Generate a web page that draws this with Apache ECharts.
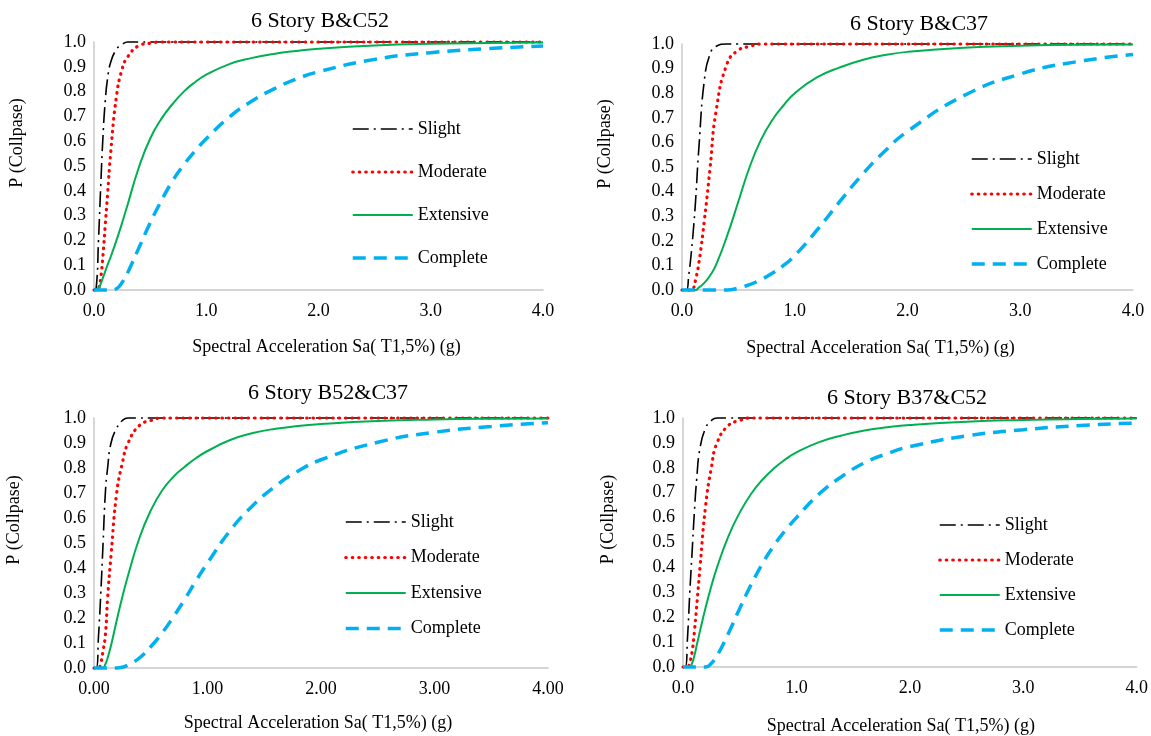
<!DOCTYPE html>
<html>
<head>
<meta charset="utf-8">
<title>Fragility curves - 6 Story</title>
<script src="https://cdn.jsdelivr.net/npm/echarts@6/dist/echarts.min.js"></script>
<style>
  html, body { margin: 0; padding: 0; background: #ffffff; }
  #chart { width: 1151px; height: 736px; }
</style>
</head>
<body>
<div id="chart"></div>
<script>
// Sa(T1,5%) sample points (g), shared by every curve
const xs = [0, 0.02, 0.04, 0.06, 0.08, 0.1, 0.12, 0.15, 0.2, 0.25, 0.3, 0.4, 0.5, 0.6, 0.7, 0.8, 0.9, 1.0, 1.2, 1.4, 1.6, 1.8, 2.0, 2.5, 3.0, 3.5, 4.0];

const stateNames = ["Slight", "Moderate", "Extensive", "Complete"];
const panelTitles = ["6 Story B&C52", "6 Story B&C37", "6 Story B52&C37", "6 Story B37&C52"];
const yTicks = [0, 0.1, 0.2, 0.3, 0.4, 0.5, 0.6, 0.7, 0.8, 0.9, 1.0];
const xTicks = [0, 1, 2, 3, 4];

// 6 Story B&C52
const slightBC52    = [0, 0.01, 0.2, 0.42, 0.62, 0.76, 0.85, 0.92, 0.97, 0.99, 1, 1, 1, 1, 1, 1, 1, 1, 1, 1, 1, 1, 1, 1, 1, 1, 1];
const moderateBC52  = [0, 0, 0.005, 0.05, 0.14, 0.26, 0.38, 0.56, 0.78, 0.89, 0.94, 0.985, 0.995, 1, 1, 1, 1, 1, 1, 1, 1, 1, 1, 1, 1, 1, 1];
const extensiveBC52 = [0, 0, 0.008, 0.025, 0.05, 0.075, 0.1, 0.135, 0.2, 0.27, 0.345, 0.495, 0.61, 0.69, 0.75, 0.8, 0.838, 0.868, 0.91, 0.935, 0.952, 0.964, 0.973, 0.986, 0.993, 0.996, 0.998];
const completeBC52  = [0, 0, 0, 0, 0, 0, 0, 0, 0.005, 0.03, 0.07, 0.17, 0.27, 0.36, 0.44, 0.505, 0.56, 0.61, 0.695, 0.76, 0.81, 0.85, 0.88, 0.93, 0.957, 0.973, 0.984];

// 6 Story B&C37
const slightBC37    = [0, 0, 0, 0.06, 0.14, 0.24, 0.36, 0.58, 0.86, 0.96, 0.99, 1, 1, 1, 1, 1, 1, 1, 1, 1, 1, 1, 1, 1, 1, 1, 1];
const moderateBC37  = [0, 0, 0, 0, 0, 0.005, 0.04, 0.11, 0.29, 0.5, 0.72, 0.92, 0.975, 0.99, 1, 1, 1, 1, 1, 1, 1, 1, 1, 1, 1, 1, 1];
const extensiveBC37 = [0, 0, 0, 0, 0, 0, 0, 0.01, 0.03, 0.06, 0.1, 0.22, 0.36, 0.5, 0.61, 0.69, 0.75, 0.8, 0.865, 0.905, 0.935, 0.955, 0.968, 0.985, 0.993, 0.997, 0.998];
const completeBC37  = [0, 0, 0, 0, 0, 0, 0, 0, 0, 0, 0, 0, 0.008, 0.022, 0.042, 0.068, 0.1, 0.14, 0.245, 0.36, 0.47, 0.565, 0.645, 0.79, 0.878, 0.928, 0.957];

// 6 Story B52&C37
const slightB52C37    = [0, 0, 0.13, 0.3, 0.5, 0.7, 0.8, 0.9, 0.96, 0.99, 1, 1, 1, 1, 1, 1, 1, 1, 1, 1, 1, 1, 1, 1, 1, 1, 1];
const moderateB52C37  = [0, 0, 0, 0.02, 0.07, 0.13, 0.28, 0.45, 0.7, 0.82, 0.9, 0.97, 0.99, 1, 1, 1, 1, 1, 1, 1, 1, 1, 1, 1, 1, 1, 1];
const extensiveB52C37 = [0, 0, 0, 0, 0, 0.015, 0.04, 0.09, 0.19, 0.285, 0.37, 0.52, 0.63, 0.71, 0.765, 0.805, 0.84, 0.868, 0.912, 0.94, 0.957, 0.968, 0.976, 0.988, 0.994, 0.997, 0.998];
const completeB52C37  = [0, 0, 0, 0, 0, 0, 0, 0, 0, 0.003, 0.012, 0.04, 0.085, 0.14, 0.205, 0.275, 0.35, 0.42, 0.55, 0.65, 0.728, 0.788, 0.833, 0.903, 0.943, 0.966, 0.981];

// 6 Story B37&C52
const slightB37C52    = [0, 0, 0.12, 0.3, 0.46, 0.62, 0.75, 0.88, 0.96, 0.99, 1, 1, 1, 1, 1, 1, 1, 1, 1, 1, 1, 1, 1, 1, 1, 1, 1];
const moderateB37C52  = [0, 0, 0, 0.02, 0.06, 0.14, 0.24, 0.4, 0.65, 0.8, 0.9, 0.97, 0.99, 1, 1, 1, 1, 1, 1, 1, 1, 1, 1, 1, 1, 1, 1];
const extensiveB37C52 = [0, 0, 0, 0, 0.015, 0.045, 0.085, 0.145, 0.24, 0.325, 0.4, 0.525, 0.62, 0.695, 0.752, 0.797, 0.833, 0.862, 0.903, 0.93, 0.95, 0.963, 0.972, 0.985, 0.992, 0.996, 0.998];
const completeB37C52  = [0, 0, 0, 0, 0, 0, 0, 0, 0, 0.015, 0.045, 0.135, 0.235, 0.33, 0.415, 0.487, 0.547, 0.6, 0.695, 0.765, 0.82, 0.857, 0.885, 0.928, 0.953, 0.97, 0.98];

const panelData = [
  [slightBC52, moderateBC52, extensiveBC52, completeBC52],
  [slightBC37, moderateBC37, extensiveBC37, completeBC37],
  [slightB52C37, moderateB52C37, extensiveB52C37, completeB52C37],
  [slightB37C52, moderateB37C52, extensiveB37C52, completeB37C52]
];

// layout of each panel (pixels)
const panels = [
  { grid: { left: 94, top: 42, width: 449, height: 248 }, titleX: 320, titleY: 10, xDigits: 1,
    legend: { left: 351, top: 120, gap: 25 }, xNamePad: [0, 0, 0, 16], xNameGap: 48, yNameGap: 68 },
  { grid: { left: 682, top: 44, width: 451, height: 246 }, titleX: 919, titleY: 13, xDigits: 1,
    legend: { left: 970, top: 150, gap: 17 }, xNamePad: [0, 54, 0, 0], xNameGap: 49, yNameGap: 68 },
  { grid: { left: 94, top: 418, width: 454, height: 250 }, titleX: 328, titleY: 382, xDigits: 2,
    legend: { left: 344, top: 513, gap: 17.5 }, xNamePad: [0, 6, 0, 0], xNameGap: 46, yNameGap: 71 },
  { grid: { left: 683, top: 418, width: 457, height: 250 }, titleX: 907, titleY: 387, xDigits: 1,
    legend: { left: 938, top: 516, gap: 17 }, xNamePad: [0, 18, 0, 0], xNameGap: 50, yNameGap: 66 }
];

const colors = ["#000000", "#ff0000", "#00b050", "#00b0f0"];
const lineStyles = [
  { color: colors[0], width: 1.6, type: [16, 5, 2, 5] },
  { color: colors[1], width: 3.2, type: [0.5, 6], cap: "round" },
  { color: colors[2], width: 2 },
  { color: colors[3], width: 3.5, type: [13, 8] }
];

const font = "Liberation Serif";

let titles = [], grids = [], xAxes = [], yAxes = [], legends = [], seriesList = [];

panels.forEach((p, i) => {
  titles.push({
    text: panelTitles[i],
    left: p.titleX,
    top: p.titleY,
    textAlign: "center",
    padding: 0,
    textStyle: { fontFamily: font, fontSize: 22, fontWeight: "normal", color: "#000" }
  });
  grids.push(p.grid);
  xAxes.push({
    gridIndex: i,
    type: "value",
    min: xTicks[0],
    max: xTicks[xTicks.length - 1],
    interval: 1,
    name: "Spectral Acceleration Sa( T1,5%) (g)",
    nameLocation: "middle",
    nameGap: p.xNameGap,
    nameTextStyle: { fontFamily: font, fontSize: 18, color: "#000", padding: p.xNamePad },
    axisLine: { lineStyle: { color: "#c8c8c8", width: 1.5 } },
    axisTick: { show: false },
    splitLine: { show: false },
    axisLabel: {
      fontFamily: font, fontSize: 18, color: "#000", margin: 12,
      formatter: (v) => v.toFixed(p.xDigits)
    }
  });
  yAxes.push({
    gridIndex: i,
    type: "value",
    min: yTicks[0],
    max: yTicks[yTicks.length - 1],
    interval: 0.1,
    name: "P (Collpase)",
    nameLocation: "middle",
    nameGap: p.yNameGap,
    nameTextStyle: { fontFamily: font, fontSize: 18, color: "#000", padding: [0, 0, 0, 46] },
    axisLine: { show: true, lineStyle: { color: "#c8c8c8", width: 1.5 } },
    axisTick: { show: false },
    splitLine: { show: false },
    axisLabel: {
      fontFamily: font, fontSize: 18, color: "#000", margin: 8,
      formatter: (v) => v.toFixed(1)
    }
  });
  legends.push({
    orient: "vertical",
    left: p.legend.left,
    top: p.legend.top,
    padding: 0,
    itemWidth: 60,
    itemHeight: 14,
    itemGap: p.legend.gap,
    selectedMode: false,
    data: stateNames,
    // hide the marker in the middle of each legend line, keep the series line width
    itemStyle: { color: "rgba(0,0,0,0)", borderWidth: 0, opacity: 0 },
    lineStyle: { width: "inherit" },
    textStyle: { fontFamily: font, fontSize: 18, color: "#000" }
  });
  panelData[i].forEach((ys, k) => {
    seriesList.push({
      name: stateNames[k],
      type: "line",
      xAxisIndex: i,
      yAxisIndex: i,
      smooth: 0.5,
      symbol: "none",
      clip: false,
      lineStyle: lineStyles[k],
      itemStyle: { color: colors[k] },
      data: xs.map((x, j) => [x, ys[j]])
    });
  });
});

const myChart = echarts.init(document.getElementById("chart"), null, { renderer: "canvas" });
myChart.setOption({
  backgroundColor: "#ffffff",
  animation: false,
  title: titles,
  grid: grids,
  xAxis: xAxes,
  yAxis: yAxes,
  legend: legends,
  series: seriesList
});
</script>
</body>
</html>
